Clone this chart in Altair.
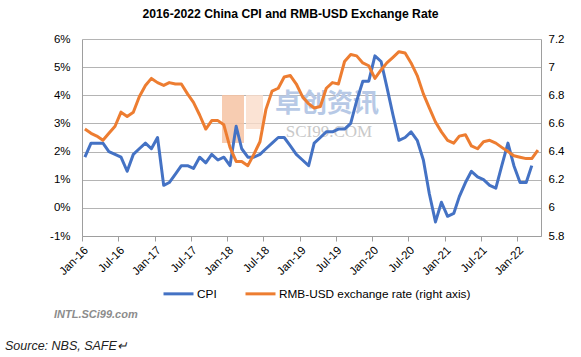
import altair as alt
import pandas as pd

# ---------------- data ----------------
series_names = ["CPI", "RMB-USD exchange rate (right axis)"]

cpi = [
    1.8, 2.3, 2.3, 2.3, 2.0, 1.9, 1.8, 1.3, 1.9, 2.1, 2.3, 2.1,   # 2016
    2.5, 0.8, 0.9, 1.2, 1.5, 1.5, 1.4, 1.8, 1.6, 1.9, 1.7, 1.8,   # 2017
    1.5, 2.9, 2.1, 1.8, 1.8, 1.9, 2.1, 2.3, 2.5, 2.5, 2.2, 1.9,   # 2018
    1.7, 1.5, 2.3, 2.5, 2.7, 2.7, 2.8, 2.8, 3.0, 3.8, 4.5, 4.5,   # 2019
    5.4, 5.2, 4.3, 3.3, 2.4, 2.5, 2.7, 2.4, 1.7, 0.5, -0.5, 0.2,  # 2020
    -0.3, -0.2, 0.4, 0.9, 1.3, 1.1, 1.0, 0.8, 0.7, 1.5, 2.3, 1.5, # 2021
    0.9, 0.9, 1.5,                                                # 2022
]

fx = [
    6.56, 6.53, 6.51, 6.48, 6.53, 6.58, 6.68, 6.65, 6.68, 6.79, 6.87, 6.92,  # 2016
    6.89, 6.87, 6.89, 6.88, 6.88, 6.81, 6.75, 6.66, 6.56, 6.62, 6.62, 6.59,  # 2017
    6.43, 6.33, 6.33, 6.30, 6.38, 6.47, 6.70, 6.83, 6.85, 6.93, 6.94, 6.88,  # 2018
    6.79, 6.74, 6.71, 6.72, 6.85, 6.89, 6.88, 7.04, 7.09, 7.08, 7.03, 7.01,  # 2019
    6.92, 6.98, 7.03, 7.07, 7.11, 7.10, 7.03, 6.94, 6.81, 6.71, 6.61, 6.54,  # 2020
    6.48, 6.46, 6.51, 6.52, 6.44, 6.42, 6.47, 6.48, 6.46, 6.43, 6.40, 6.37,  # 2021
    6.36, 6.35, 6.35, 6.41,                                                  # 2022
]

left_ticks = [-1, 0, 1, 2, 3, 4, 5, 6]
right_ticks = [5.8, 6.0, 6.2, 6.4, 6.6, 6.8, 7.0, 7.2]
tick_years = [2016, 2016, 2017, 2017, 2018, 2018, 2019, 2019, 2020, 2020, 2021, 2021, 2022]
tick_months = [1, 7, 1, 7, 1, 7, 1, 7, 1, 7, 1, 7, 1]

title_text = "2016-2022 China CPI and RMB-USD Exchange Rate"
site_text = "INTL.SCi99.com"
source_text = "Source: NBS, SAFE\u21b5"
wm_cn = "卓创资讯"
wm_en = "SCI99.COM"

# ---------------- tables ----------------
month_starts = pd.date_range("2016-01-01", periods=len(fx), freq="MS")
month_mid = [m.strftime("%Y-%m-15T12:00:00Z") for m in month_starts]

cpi_df = pd.DataFrame({"date": month_mid[:len(cpi)], "value": cpi, "series": series_names[0]})
fx_df = pd.DataFrame({"date": month_mid, "value": fx, "series": series_names[1]})
one = pd.DataFrame({"t": [0]})

FONT = "Liberation Sans"
GRID = "#B4B4B4"
AXIS = "#9E9E9E"

x_enc = alt.X(
    "date:T",
    title=None,
    scale=alt.Scale(
        type="utc",
        domain=[alt.DateTime(year=2016, month=1, date=1, utc=True),
                alt.DateTime(year=2022, month=5, date=1, utc=True)],
    ),
    axis=alt.Axis(
        values=[alt.DateTime(year=y, month=m, date=1, utc=True) for y, m in zip(tick_years, tick_months)],
        format="%b-%y",
        labelAngle=-45,
        labelFont=FONT,
        labelFontSize=11.5,
        labelColor="#000000",
        grid=False,
        domainColor=AXIS,
        tickColor=AXIS,
        tickSize=5,
        labelPadding=3,
        labelFlush=False,
        labelOverlap=False,
    ),
)

color_enc = alt.Color(
    "series:N",
    scale=alt.Scale(domain=series_names, range=["#4472C4", "#ED7D31"]),
    legend=alt.Legend(
        title=None,
        orient="none",
        legendX=80,
        legendY=238,
        direction="horizontal",
        symbolType="stroke",
        symbolStrokeWidth=3,
        symbolSize=900,
        labelFont=FONT,
        labelFontSize=11.8,
        labelColor="#000000",
        labelOffset=2,
        labelLimit=0,
        columnPadding=22,
        padding=0,
    ),
)

cpi_line = alt.Chart(cpi_df).mark_line(strokeWidth=3, strokeJoin="round").encode(
    x=x_enc,
    y=alt.Y(
        "value:Q",
        title=None,
        scale=alt.Scale(domain=[-1, 6], nice=False, zero=False),
        axis=alt.Axis(
            orient="left",
            values=left_ticks,
            labelExpr="datum.value + '%'",
            labelFont=FONT,
            labelFontSize=11.5,
            labelColor="#000000",
            grid=True,
            gridColor=GRID,
            gridWidth=1,
            domainColor=AXIS,
            ticks=False,
            tickSize=0,
            labelPadding=12,
        ),
    ),
    color=color_enc,
)

fx_line = alt.Chart(fx_df).mark_line(strokeWidth=3, strokeJoin="round").encode(
    x=x_enc,
    y=alt.Y(
        "value:Q",
        title=None,
        scale=alt.Scale(domain=[5.8, 7.2], nice=False, zero=False),
        axis=alt.Axis(
            orient="right",
            values=right_ticks,
            labelExpr="format(datum.value, '.1~f')",
            labelFont=FONT,
            labelFontSize=11.5,
            labelColor="#000000",
            grid=False,
            domainColor=AXIS,
            ticks=False,
            tickSize=0,
            labelPadding=7,
        ),
    ),
    color=color_enc,
)

# watermark (decoration)
logo_a = alt.Chart(one).mark_rect(color="#F6C3A3", opacity=0.85).encode(
    x=alt.value(140), x2=alt.value(162), y=alt.value(56), y2=alt.value(104))
logo_b = alt.Chart(one).mark_rect(color="#FADCC9", opacity=0.8).encode(
    x=alt.value(164), x2=alt.value(181), y=alt.value(56), y2=alt.value(90))
wm1 = alt.Chart(one).mark_text(
    text=wm_cn, font="Noto Sans CJK SC", fontSize=26, fontWeight="bold",
    color="#B7C9E6", align="center", baseline="middle",
).encode(x=alt.value(245), y=alt.value(65))
wm2 = alt.Chart(one).mark_text(
    text=wm_en, font="Liberation Serif", fontSize=17,
    color="#C9C9C9", align="center", baseline="middle",
).encode(x=alt.value(247), y=alt.value(93))

# texts
title = alt.Chart(one).mark_text(
    text=title_text, font=FONT, fontSize=12.2, fontWeight="bold",
    color="#000000", align="center", baseline="middle",
).encode(x=alt.value(208.5), y=alt.value(-25))
site = alt.Chart(one).mark_text(
    text=site_text, font=FONT, fontSize=11, fontWeight="bold", fontStyle="italic",
    color="#8C8C8C", align="left", baseline="middle",
).encode(x=alt.value(-28), y=alt.value(276))
source = alt.Chart(one).mark_text(
    text=source_text, font=FONT, fontSize=12.5, fontStyle="italic",
    color="#222222", align="left", baseline="middle",
).encode(x=alt.value(-77), y=alt.value(307))

chart = alt.layer(
    logo_a, logo_b, wm1, wm2, cpi_line, fx_line, title, site, source
).resolve_scale(
    y="independent"
).properties(
    width=459,
    height=197,
    autosize=alt.AutoSizeParams(type="none"),
    padding={"left": 82, "top": 39, "right": 40, "bottom": 121},
    background="#FFFFFF",
).configure_view(stroke=None)

chart.save("out.html", embed_options={"renderer": "svg", "actions": False})
